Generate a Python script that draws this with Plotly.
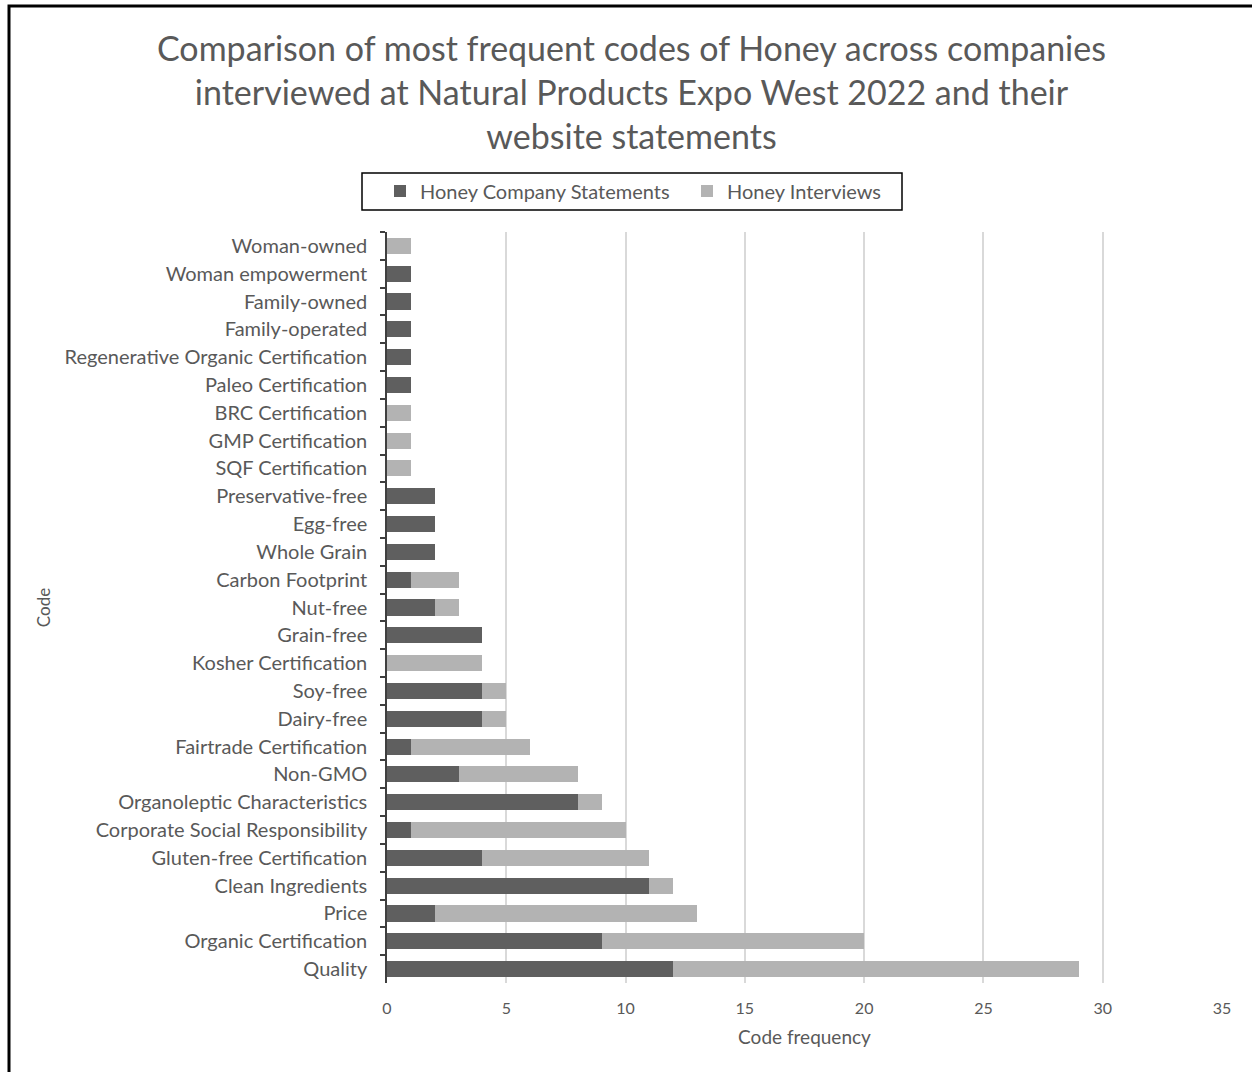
import plotly.graph_objects as go

# Codes, listed from top of the chart to the bottom
codes = [
    "Woman-owned", "Woman empowerment", "Family-owned", "Family-operated",
    "Regenerative Organic Certification", "Paleo Certification", "BRC Certification",
    "GMP Certification", "SQF Certification", "Preservative-free", "Egg-free",
    "Whole Grain", "Carbon Footprint", "Nut-free", "Grain-free", "Kosher Certification",
    "Soy-free", "Dairy-free", "Fairtrade Certification", "Non-GMO",
    "Organoleptic Characteristics", "Corporate Social Responsibility",
    "Gluten-free Certification", "Clean Ingredients", "Price",
    "Organic Certification", "Quality",
]
company_statements = [0, 1, 1, 1, 1, 1, 0, 0, 0, 2, 2, 2, 1, 2, 4, 0, 4, 4, 1, 3, 8, 1, 4, 11, 2, 9, 12]
interviews =         [1, 0, 0, 0, 0, 0, 1, 1, 1, 0, 0, 0, 2, 1, 0, 4, 1, 1, 5, 5, 1, 9, 7, 1, 11, 11, 17]

x_ticks = [0, 5, 10, 15, 20, 25, 30, 35]

FONT = "Lato, 'Open Sans', sans-serif"
TEXT = "#595959"

W, H = 1252, 1072
ML, MR, MT, MB = 387, 30, 232, 89
pw, ph = W - ML - MR, H - MT - MB


def px_x(p):
    return (p - ML) / pw


def px_y(p):
    return 1 - (p - MT) / ph


fig = go.Figure()
fig.add_trace(go.Bar(
    y=codes, x=company_statements, orientation="h",
    name="Honey Company Statements", marker=dict(color="#5f5f5f", line=dict(width=0)),
))
fig.add_trace(go.Bar(
    y=codes, x=interviews, orientation="h",
    name="Honey Interviews", marker=dict(color="#b3b3b3", line=dict(width=0)),
))

# outer frame around the chart area
fig.add_shape(type="rect", xref="paper", yref="paper",
              x0=px_x(9), x1=px_x(W + 20), y0=px_y(H + 20), y1=px_y(6),
              line=dict(color="black", width=3), fillcolor="rgba(0,0,0,0)", layer="below")

# frame around the legend
fig.add_shape(type="rect", xref="paper", yref="paper",
              x0=px_x(362), x1=px_x(902), y0=px_y(210), y1=px_y(173),
              line=dict(color="black", width=1.5), fillcolor="white", layer="below")

# chart title
fig.add_annotation(
    text="Comparison of most frequent codes of Honey across companies<br>"
         "interviewed at Natural Products Expo West 2022 and their<br>"
         "website statements",
    xref="paper", yref="paper", x=px_x(631), y=px_y(25),
    xanchor="center", yanchor="top", showarrow=False, align="center",
    font=dict(size=34, color=TEXT, family=FONT),
)

fig.update_layout(
    width=W, height=H,
    margin=dict(l=ML, r=MR, t=MT, b=MB),
    paper_bgcolor="white", plot_bgcolor="white",
    barmode="stack", bargap=0.42,
    font=dict(family=FONT, color=TEXT, size=17),
    legend=dict(
        orientation="h", x=px_x(380), xanchor="left", y=px_y(191), yanchor="middle",
        bgcolor="rgba(0,0,0,0)", borderwidth=0,
        font=dict(size=20, color=TEXT, family=FONT),
        itemsizing="constant", traceorder="normal",
        entrywidth=262, entrywidthmode="pixels",
    ),
    xaxis=dict(
        range=[0, 35], tickvals=x_ticks, ticktext=[str(v) for v in x_ticks],
        showgrid=True, gridcolor="#d9d9d9", gridwidth=1.5,
        zeroline=False, showline=False, ticks="",
        tickfont=dict(size=16, color=TEXT), ticklabelstandoff=14,
        title=dict(text="Code frequency", font=dict(size=19, color=TEXT), standoff=14),
        fixedrange=True,
    ),
    yaxis=dict(
        autorange="reversed", showgrid=False, zeroline=False,
        showline=True, linecolor="#3f3f3f", linewidth=1.5,
        ticks="outside", tickson="boundaries", ticklen=5, tickcolor="#3f3f3f", tickwidth=1.5,
        tickfont=dict(size=20, color=TEXT), ticklabelstandoff=14,
        title=dict(text="Code", font=dict(size=17, color=TEXT), standoff=10),
    ),
)

fig.write_html("out.html")
